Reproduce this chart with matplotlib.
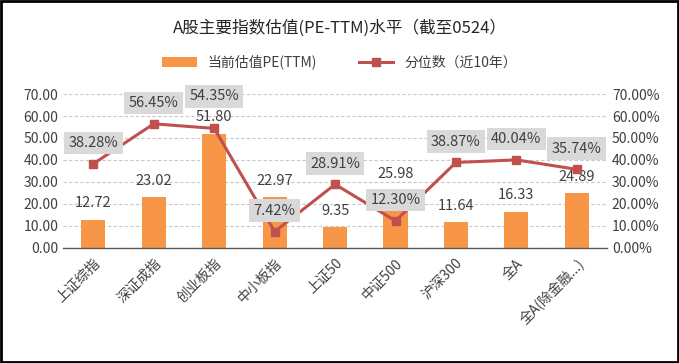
import matplotlib
matplotlib.use("Agg")
import matplotlib.pyplot as plt
from matplotlib.patches import Rectangle
from matplotlib.ticker import FuncFormatter

plt.rcParams['font.family'] = ['Noto Sans CJK SC', 'DejaVu Sans']

categories = ["上证综指", "深证成指", "创业板指", "中小板指", "上证50",
              "中证500", "沪深300", "全A", "全A(除金融...)"]
pe_values = [12.72, 23.02, 51.80, 22.97, 9.35, 25.98, 11.64, 16.33, 24.89]
pct_values = [38.28, 56.45, 54.35, 7.42, 28.91, 12.30, 38.87, 40.04, 35.74]

bar_color = '#F79646'
line_color = '#C0504D'
text_color = '#404040'

fig = plt.figure(figsize=(6.79, 3.63), dpi=100)
ax = fig.add_axes([0.093, 0.317, 0.801, 0.424])
ax2 = ax.twinx()

x = range(len(categories))
ax.bar(x, pe_values, width=0.4, color=bar_color, zorder=2, label='当前估值PE(TTM)')
ax2.plot(x, pct_values, color=line_color, lw=2.2, marker='s', ms=6,
         zorder=3, label='分位数（近10年）')

for a in (ax, ax2):
    a.set_ylim(0, 70)
    a.set_yticks(range(0, 71, 10))
    a.tick_params(length=0, labelsize=10, colors=text_color)
    for s in a.spines.values():
        s.set_visible(False)
ax.set_xlim(-0.5, len(categories) - 0.5)
ax.spines['bottom'].set_visible(True)
ax.spines['bottom'].set_color('#595959')
ax.spines['bottom'].set_linewidth(1.0)
ax.yaxis.set_major_formatter(FuncFormatter(lambda v, p: f"{v:.2f}"))
ax2.yaxis.set_major_formatter(FuncFormatter(lambda v, p: f"{v:.2f}%"))
ax.grid(axis='y', color='#c8c8c8', ls=(0, (3, 2)), lw=0.8, zorder=0)
ax.set_axisbelow(True)

ax.set_xticks(list(x))
ax.set_xticklabels(categories, rotation=45, ha='right', rotation_mode='anchor',
                   fontsize=10, color=text_color)
ax.tick_params(axis='x', pad=6)

ax2.set_zorder(ax.get_zorder() + 1)
ax2.patch.set_visible(False)

for i, v in enumerate(pe_values):
    ax.annotate(f"{v:.2f}", (i, v), xytext=(0, 12), textcoords='offset points',
                ha='center', va='center', fontsize=10.5, color=text_color, zorder=4)
# the 创业板指 label sits higher so it clears the bar label beneath it
pct_offsets = {2: 23}
for i, v in enumerate(pct_values):
    ax2.annotate(f"{v:.2f}%", (i, v), xytext=(0, pct_offsets.get(i, 15)),
                 textcoords='offset points',
                 ha='center', va='center', fontsize=10.5, color=text_color, zorder=5,
                 bbox=dict(boxstyle='square,pad=0.3', fc='#d9d9d9', ec='none'))

fig.text(0.5, 0.923, "A股主要指数估值(PE-TTM)水平（截至0524）", ha='center',
         va='center', fontsize=12, color='#262626')

h1, l1 = ax.get_legend_handles_labels()
h2, l2 = ax2.get_legend_handles_labels()
fig.legend(h1 + h2, l1 + l2, loc='center', bbox_to_anchor=(0.5, 0.829), ncol=2,
           frameon=False, fontsize=10, handlelength=2.5, columnspacing=3,
           labelcolor=text_color)

fig.patches.append(Rectangle((0.002, 0.003), 0.996, 0.994, transform=fig.transFigure,
                             fill=False, ec='black', lw=2))

fig.savefig("out.png", dpi=100)
